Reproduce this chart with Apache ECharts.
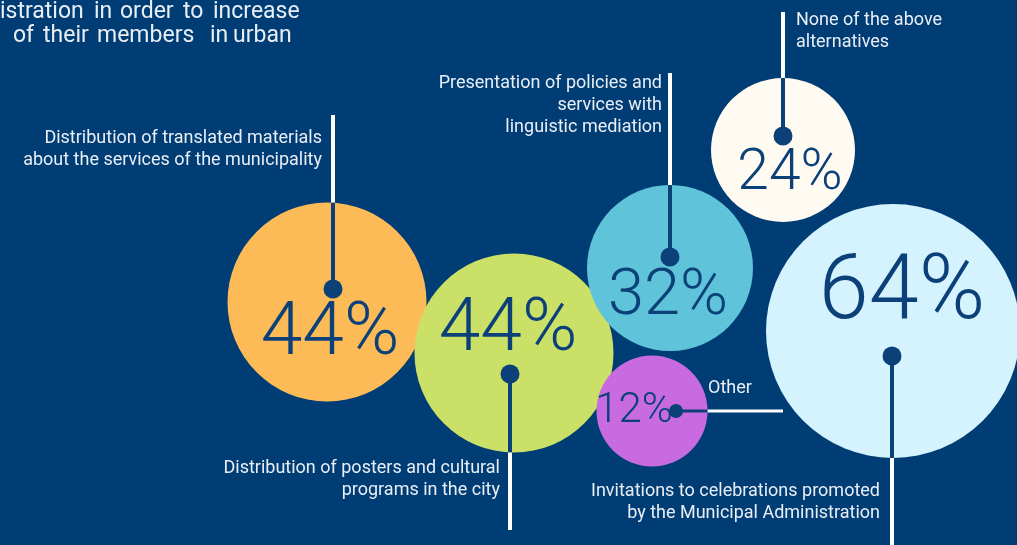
<!DOCTYPE html>
<html>
<head>
<meta charset="utf-8">
<style>
  html, body { margin: 0; padding: 0; background: #013d75; }
  #chart { width: 1017px; height: 545px; }
</style>
<script src="https://cdn.jsdelivr.net/npm/echarts@6/dist/echarts.min.js"></script>
</head>
<body>
<div id="chart"></div>
<script>
// chart data
const categories = [
  "Distribution of translated materials\nabout the services of the municipality",
  "Distribution of posters and cultural\nprograms in the city",
  "Presentation of policies and\nservices with\nlinguistic mediation",
  "None of the above\nalternatives",
  "Invitations to celebrations promoted\nby the Municipal Administration",
  "Other"
];
const values = [44, 44, 32, 24, 64, 12];
const colors = ["#fdbb58", "#cbe066", "#5fc3da", "#fffaf2", "#d5f3fe", "#c96be0"];

// bubble layout (packed, in a 1017 x 545 plane)
const bubbleX = [327, 514, 670, 783, 893, 652];
const bubbleY = [302, 353, 268, 150, 331, 411];

// leader lines and label placement for each bubble
const leaders = [
  { dir: "up",    dot: 13, end: 115, lx: 322, ly: 127, align: "right", dx: 6 },
  { dir: "down",  dot: 21, end: 530, lx: 500, ly: 457, align: "right", dx: -4 },
  { dir: "up",    dot: 11, end: 73,  lx: 662, ly: 72,  align: "right", dx: 0 },
  { dir: "up",    dot: 14, end: 12,  lx: 796, ly: 9,   align: "left",  dx: 0 },
  { dir: "down",  dot: 25, end: 545, lx: 880, ly: 480, align: "right", dx: -1 },
  { dir: "right", dot: 24, end: 783, lx: 708, ly: 377, align: "left",  dx: 0 }
];
// where the percentage sits inside its bubble
const pctOffset = [[3, 33], [-6, -22], [-2, 30], [7, 25], [9, -36], [-18, 0]];

const navy = "#013d75";
const ink = "#0b4178";
const labelColor = "#e9eef5";

const diameter = v => 78 + 2.75 * v;
const pctFont = v => Math.round(10.6 * Math.sqrt(v) + 5);

const chart = echarts.init(document.getElementById("chart"));

const seriesData = values.map((v, i) => ({
  name: categories[i],
  value: [bubbleX[i], bubbleY[i], v],
  itemStyle: { color: colors[i], opacity: 1 },
  label: {
    offset: pctOffset[i],
    fontSize: pctFont(v)
  }
}));

chart.setOption({
  backgroundColor: navy,
  animation: false,
  grid: { left: 0, right: 0, top: 0, bottom: 0 },
  xAxis: { type: "value", min: 0, max: 1017, show: false },
  yAxis: { type: "value", min: 0, max: 545, inverse: true, show: false },
  series: [{
    type: "scatter",
    z: 2,
    symbol: "circle",
    symbolSize: val => diameter(val[2]),
    data: seriesData,
    label: {
      show: true,
      position: "inside",
      formatter: p => p.value[2] + "%",
      color: ink,
      fontFamily: "Roboto",
      fontWeight: 300
    },
    emphasis: { disabled: true }
  }]
});

// leader lines, dots and labels placed from the bubble pixels
const elements = [];
values.forEach((v, i) => {
  let [cx, cy] = chart.convertToPixel({ gridIndex: 0 }, [bubbleX[i], bubbleY[i]]);
  const r = diameter(v) / 2;
  const L = leaders[i];
  let dot, edge, end;
  if (L.dir === "up") {
    const x = cx + L.dx;
    dot = [x, cy - L.dot]; edge = [x, cy - Math.sqrt(r * r - L.dx * L.dx)]; end = [x, L.end];
  } else if (L.dir === "down") {
    const x = cx + L.dx;
    dot = [x, cy + L.dot]; edge = [x, cy + Math.sqrt(r * r - L.dx * L.dx)]; end = [x, L.end];
  } else {
    dot = [cx + L.dot, cy]; edge = [cx + r, cy]; end = [L.end, cy];
  }
  const w = L.dir === "right" ? 3 : 4;
  elements.push({
    type: "line", z: 0,
    shape: { x1: dot[0], y1: dot[1], x2: end[0], y2: end[1] },
    style: { stroke: "#ffffff", lineWidth: w }
  });
  elements.push({
    type: "line", z: 20,
    shape: { x1: dot[0], y1: dot[1], x2: edge[0], y2: edge[1] },
    style: { stroke: ink, lineWidth: w }
  });
  elements.push({
    type: "circle", z: 21,
    shape: { cx: dot[0], cy: dot[1], r: L.dir === "right" ? 7 : 9.5 },
    style: { fill: ink }
  });
  elements.push({
    type: "text", z: 21,
    x: L.lx, y: L.ly,
    style: {
      text: categories[i],
      fill: labelColor,
      font: "18px Roboto",
      lineHeight: 22,
      align: L.align,
      verticalAlign: "top"
    }
  });
});

// clipped intro text at top-left (justified in the original)
const introWords = [
  ["istration", 0, 0], ["in", 94, 0], ["order", 120, 0], ["to", 183, 0], ["increase", 213, 0],
  ["of", 13, 24], ["their", 43, 24], ["members", 97, 24], ["in", 210, 24], ["urban", 233, 24]
];
introWords.forEach(([t, x, y]) => {
  elements.push({
    type: "text", z: 21,
    x: x, y: y + 1,
    style: { text: t, fill: labelColor, font: "23px Roboto", verticalAlign: "top" }
  });
});

chart.setOption({ graphic: { elements: elements } });
</script>
</body>
</html>
